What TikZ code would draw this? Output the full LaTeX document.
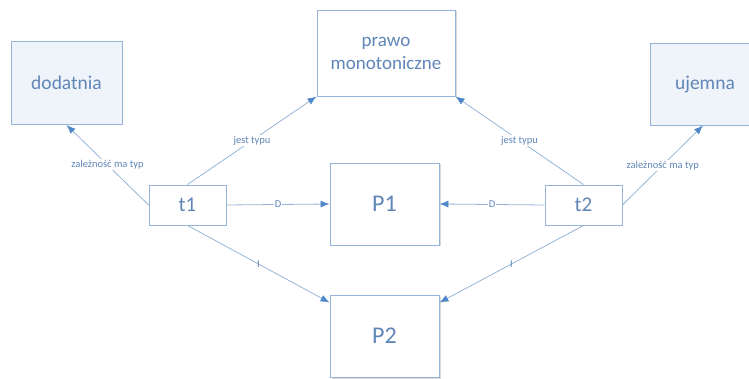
\documentclass[tikz,border=0pt]{standalone}
\usepackage{fontspec}
\setmainfont{Carlito}
\usepackage{tikz}
\usetikzlibrary{arrows.meta, shadows}

\definecolor{txtblue}{RGB}{96,134,184}
\definecolor{lineblue}{RGB}{150,180,215}
\definecolor{tipblue}{RGB}{79,135,200}
\definecolor{boxfill}{RGB}{239,243,250}

\begin{document}
\begin{tikzpicture}[x=1pt,y=-1pt,
        box/.style={draw=lineblue, line width=0.9pt, inner sep=0pt, text=txtblue, align=center, fill=white},
        shade/.style={drop shadow={opacity=0.3, shadow xshift=1.5pt, shadow yshift=-1.5pt}},
        conn/.style={lineblue, line width=0.8pt, -{Latex[length=9pt,width=7pt,color=tipblue]}},
        lbl/.style={fill=white, inner sep=1pt, text=txtblue, font=\fontsize{10.5}{12}\selectfont}]
        \useasboundingbox (0,0) rectangle (749,379);
        % boxes
        \node[box, fill=boxfill, minimum width=111pt, minimum height=83pt, font=\fontsize{19.5}{23}\selectfont] (dodatnia) at (66.5,83) {dodatnia};
        \node[box, shade, minimum width=138pt, minimum height=86pt, font=\fontsize{19}{23}\selectfont] (prawo) at (386,53) {prawo\\monotoniczne};
        \node[box, fill=boxfill, minimum width=110pt, minimum height=82pt, font=\fontsize{19.5}{23}\selectfont] (ujemna) at (705,84) {ujemna};
        \node[box, minimum width=77pt, minimum height=40pt, font=\fontsize{21}{24}\selectfont] (t1) at (187.5,205) {t1};
        \node[box, minimum width=77pt, minimum height=40pt, font=\fontsize{21}{24}\selectfont] (t2) at (583.5,205) {t2};
        \node[box, shade, minimum width=109pt, minimum height=82pt, font=\fontsize{24}{28}\selectfont] (P1) at (384.5,204) {P1};
        \node[box, shade, minimum width=109pt, minimum height=82pt, font=\fontsize{24}{28}\selectfont] (P2) at (384.5,336) {P2};
        % connectors
        \draw[conn] (t1.west) -- node[lbl]{zależność ma typ} (dodatnia.south);
        \draw[conn] (t1.north) -- node[lbl]{jest typu} (prawo.south west);
        \draw[conn] (t1.east) -- node[lbl]{D} (P1.west);
        \draw[conn] (t1.south) -- node[lbl, fill=none]{I} ([yshift=-8pt]P2.north west);
        \draw[conn] (t2.east) -- node[lbl]{zależność ma typ} ([xshift=-2pt]ujemna.south);
        \draw[conn] (t2.north) -- node[lbl]{jest typu} (prawo.south east);
        \draw[conn] (t2.west) -- node[lbl]{D} (P1.east);
        \draw[conn] (t2.south) -- node[lbl, fill=none]{I} ([yshift=-8pt]P2.north east);
    \end{tikzpicture}
\end{document}
